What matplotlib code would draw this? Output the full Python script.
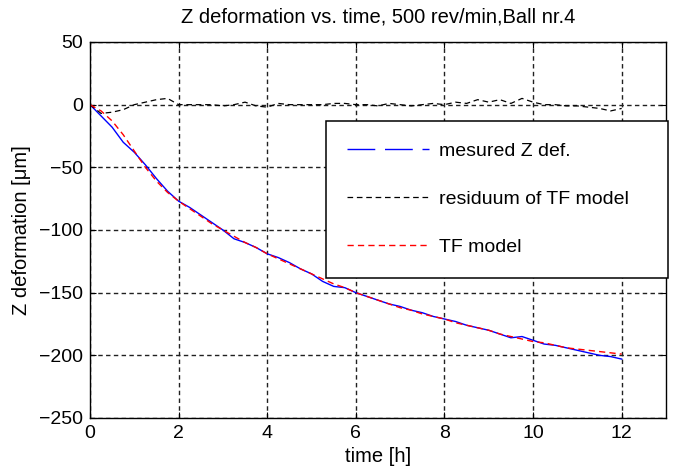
import numpy as np
import matplotlib.pyplot as plt

plt.rcParams['font.family'] = ['Liberation Sans', 'DejaVu Sans']

# sample times (h)
time_h = [0, 0.25, 0.5, 0.75, 1, 1.25, 1.5, 1.75, 2, 2.25, 2.5, 2.75,
          3, 3.25, 3.5, 3.75, 4, 4.25, 4.5, 4.75, 5, 5.25, 5.5, 5.75,
          6, 6.25, 6.5, 6.75, 7, 7.25, 7.5, 7.75, 8, 8.25, 8.5, 8.75,
          9, 9.25, 9.5, 9.75, 10, 10.25, 10.5, 10.75, 11, 11.25, 11.5, 11.75, 12]

# measured Z deformation (um)
z_meas = [0, -9, -18, -30, -38, -48, -59, -69, -77, -82, -88, -94,
          -100, -107, -110, -114, -119, -122, -126, -131, -135, -141, -145, -146,
          -150, -153, -156, -159, -161, -164, -166, -169, -171, -173, -176, -178,
          -180, -183, -186, -185, -188, -191, -192, -194, -196, -198, -200, -201, -203]

# TF model output (um)
z_model = [0, -5, -13, -24, -37, -50, -61, -70, -77, -83, -89, -95,
           -100, -105, -110, -114, -119, -123, -127, -131, -135, -139, -143, -146,
           -150, -153, -156, -159, -162, -164, -167, -169, -171, -174, -176, -178,
           -180, -183, -185, -187, -189, -190, -192, -194, -195, -196, -197, -198, -199]

# residuum of TF model (um)
z_resid = [0, -7, -6, -4, 0, 2, 4, 5, 0, 0, 0, 0,
           -1, 0, 2, -1, -2, 1, 0, 0, 0, 0, 1, 1,
           0, 0, -1, 1, 0, -1, 0, 1, 0, 2, 1, 4,
           2, 4, 1, 5, 2, 0, 0, -1, -1, -2, -3, -5, -3]

xticks = [0, 2, 4, 6, 8, 10, 12]
yticks = [-250, -200, -150, -100, -50, 0, 50]

fig = plt.figure(figsize=(6.91, 4.75), dpi=100)
ax = fig.add_axes([90/691, 57/475, 576/691, 376/475])

ax.plot(time_h, z_meas, color='#0000ff', lw=1.0, label='mesured Z def.')
ax.plot(time_h, z_resid, color='black', lw=0.9, linestyle=(0, (4.5, 3)),
        label='residuum of TF model')
ax.plot(time_h, z_model, color='#ff0000', lw=1.0, linestyle=(0, (4.5, 3)),
        label='TF model')

ax.set_xlim(0, 13)
ax.set_ylim(-250, 50)
ax.set_xticks(xticks)
ax.set_yticks(yticks)
ax.grid(True, color='#202020', lw=1.0, linestyle=(0, (3.2, 2.4)))
ax.tick_params(direction='in', length=4, width=0.8, top=True, right=True,
               labelsize=14, pad=5)
for s in ax.spines.values():
    s.set_linewidth(1.0)

ax.set_title('Z deformation vs. time, 500 rev/min,Ball nr.4', fontsize=14.5, pad=14)
ax.set_xlabel('time [h]', fontsize=14.5, labelpad=4)
ax.set_ylabel('Z deformation [μm]', fontsize=14.5, labelpad=6)

leg = ax.legend(loc='upper left', bbox_to_anchor=(326/691, 1 - 121/475, 342/691, 0.001),
                bbox_transform=fig.transFigure, mode='expand', borderaxespad=0,
                fontsize=14, handlelength=4.2, handletextpad=0.5,
                labelspacing=1.58, borderpad=1.1, fancybox=False, framealpha=1)
leg.get_frame().set_edgecolor('black')
leg.get_frame().set_linewidth(1.1)
leg.get_lines()[0].set_linestyle((0, (20, 7)))

fig.savefig('out.png', dpi=100)
